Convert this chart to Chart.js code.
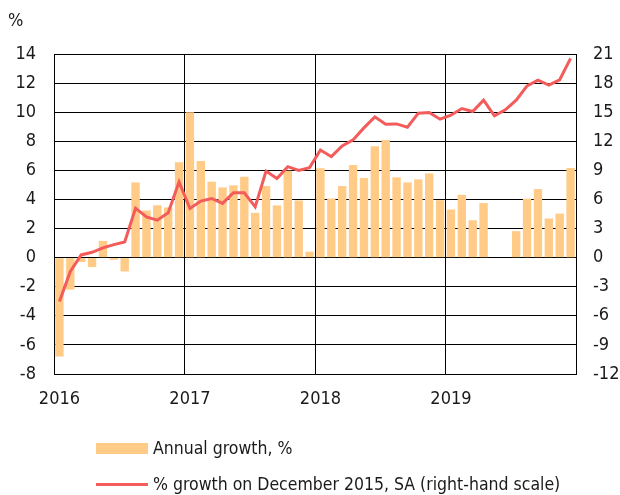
<!DOCTYPE html>
<html>
<head>
<meta charset="utf-8">
<script src="https://cdn.jsdelivr.net/npm/chart.js@4/dist/chart.umd.min.js"></script>
<style>
  body { margin: 0; background: #fff; }
  #wrap { position: relative; width: 620px; height: 495px; }
  #c { position: absolute; left: 0; top: 0; }
  .leg { position: absolute; left: 96px; height: 24px; display: flex; align-items: center; white-space: nowrap;
         font-family: 'DejaVu Sans Condensed', 'Liberation Sans', sans-serif;
         font-size: 17.5px; color: #1a1a1a; }
  .sw { width: 52px; margin-right: 5px; }
</style>
</head>
<body>
<div id="wrap">
  <canvas id="c" width="620" height="495"></canvas>
  <div class="leg" style="top:436px;"><span class="sw" style="height:11px;background:#FFCB87;"></span><span id="l1"></span></div>
  <div class="leg" style="top:472px;"><span class="sw" style="height:3px;background:#F45B5B;"></span><span id="l2"></span></div>
</div>
<script>
// ---- data ----
const years = ['2016', '2017', '2018', '2019'];
const monthNames = ['Jan','Feb','Mar','Apr','May','Jun','Jul','Aug','Sep','Oct','Nov','Dec'];
const seriesNames = ['Annual growth, %', '% growth on December 2015, SA (right-hand scale)'];
const unitLabel = '%';

const annualGrowth = [
  -6.8, -2.2, -0.3, -0.65, 1.15, -0.15, -0.95, 5.17, 3.24, 3.6, 3.45, 6.55,
  10.0, 6.64, 5.22, 4.83, 4.97, 5.56, 3.08, 4.92, 3.59, 5.98, 3.93, 0.41,
  6.14, 4.07, 4.92, 6.37, 5.47, 7.66, 8.09, 5.52, 5.17, 5.38, 5.79, 3.95,
  3.31, 4.32, 2.57, 3.75, null, null, 1.82, 4.05, 4.71, 2.69, 3.03, 6.16
];
const growthSinceDec2015 = [
  -4.52, -1.42, 0.28, 0.55, 1.0, 1.34, 1.62, 5.1, 4.2, 3.86, 4.62, 7.8,
  5.07, 5.83, 6.1, 5.59, 6.69, 6.69, 5.24, 8.93, 8.17, 9.38, 9.0, 9.28,
  11.1, 10.41, 11.52, 12.14, 13.38, 14.52, 13.76, 13.79, 13.45, 14.9, 14.97, 14.28,
  14.69, 15.38, 15.07, 16.24, 14.62, 15.24, 16.24, 17.72, 18.31, 17.79, 18.34, 20.55
];
const leftTicks = { min: -8, max: 14, step: 2 };
const rightTicks = { min: -12, max: 21, step: 3 };

// ---- build ----
const categories = [];
years.forEach(y => monthNames.forEach(m => categories.push(m + ' ' + y)));

document.getElementById('l1').textContent = seriesNames[0];
document.getElementById('l2').textContent = seriesNames[1];

const FONT = "'DejaVu Sans Condensed', 'Liberation Sans', sans-serif";
Chart.defaults.font.family = FONT;
Chart.defaults.font.size = 18;
Chart.defaults.color = '#1a1a1a';

const unitPlugin = {
  id: 'unitLabel',
  afterDraw(chart) {
    const c = chart.ctx;
    c.save();
    c.font = '18px ' + FONT;
    c.fillStyle = '#1a1a1a';
    c.textBaseline = 'middle';
    c.textAlign = 'left';
    c.fillText(unitLabel, 8, 21);
    c.restore();
  }
};

new Chart(document.getElementById('c'), {
  type: 'bar',
  data: {
    labels: categories,
    datasets: [
      {
        type: 'line', label: seriesNames[1], data: growthSinceDec2015, yAxisID: 'yR',
        borderColor: '#F45B5B', borderWidth: 3, pointRadius: 0, tension: 0, order: 0
      },
      {
        type: 'bar', label: seriesNames[0], data: annualGrowth, yAxisID: 'y',
        backgroundColor: '#FFCB87', barPercentage: 0.77, categoryPercentage: 1, order: 1
      }
    ]
  },
  options: {
    responsive: false,
    animation: false,
    devicePixelRatio: 1,
    layout: { padding: { top: 54, left: 0, right: 0, bottom: 0 } },
    plugins: { legend: { display: false }, tooltip: { enabled: false } },
    scales: {
      x: {
        grid: {
          offset: true, drawTicks: false, lineWidth: 1,
          color: ctx => (ctx.index % 12 === 0 ? '#000' : 'rgba(0,0,0,0)')
        },
        border: { display: true, color: '#000' },
        ticks: {
          autoSkip: false, maxRotation: 0, minRotation: 0, padding: 15,
          callback: (v, i) => (i % 12 === 0 ? years[i / 12] : '')
        },
        afterFit: s => { s.height = 121; }
      },
      y: {
        position: 'left', min: leftTicks.min, max: leftTicks.max,
        ticks: { stepSize: leftTicks.step, padding: 18 },
        grid: { color: '#000', lineWidth: 1, drawTicks: false },
        border: { display: true, color: '#000' },
        afterFit: s => { s.width = 54; }
      },
      yR: {
        position: 'right', min: rightTicks.min, max: rightTicks.max,
        ticks: { stepSize: rightTicks.step, padding: 17 },
        grid: { display: false, drawTicks: false },
        border: { display: true, color: '#000' },
        afterFit: s => { s.width = 44; }
      }
    }
  },
  plugins: [unitPlugin]
});
</script>
</body>
</html>
